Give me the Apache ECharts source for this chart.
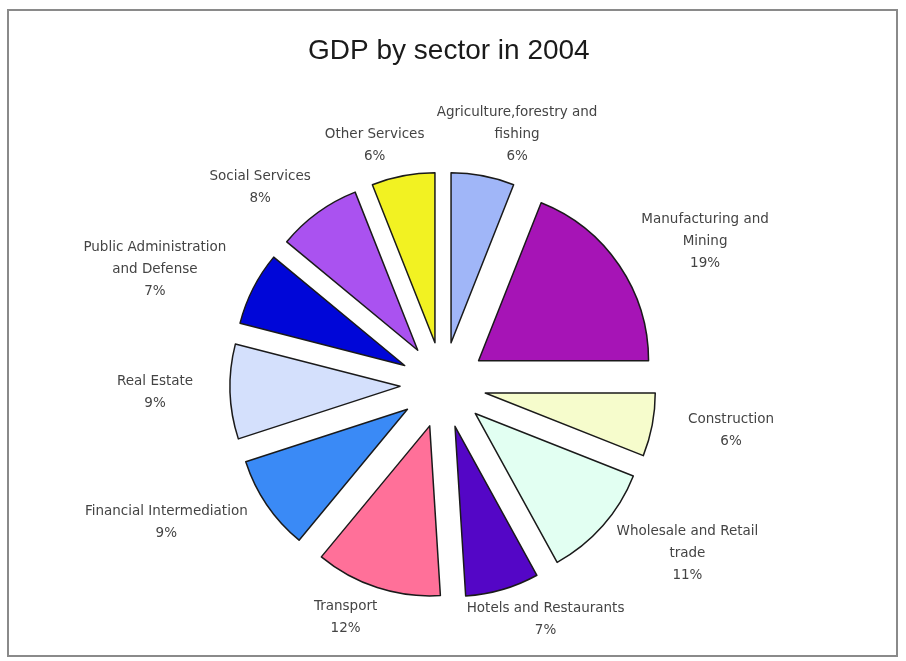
<!DOCTYPE html>
<html>
<head>
<meta charset="utf-8">
<script src="https://cdn.jsdelivr.net/npm/echarts@6/dist/echarts.min.js"></script>
<style>html,body{margin:0;padding:0;background:#fff}#c{width:906px;height:661px}</style>
</head>
<body>
<div id="c"></div>
<script>
const categories = [
  "Agriculture,forestry and\nfishing",
  "Manufacturing and\nMining",
  "Construction",
  "Wholesale and Retail\ntrade",
  "Hotels and Restaurants",
  "Transport",
  "Financial Intermediation",
  "Real Estate",
  "Public Administration\nand Defense",
  "Social Services",
  "Other Services"
];
const values = [6, 19, 6, 11, 7, 12, 9, 9, 7, 8, 6];
const colors = ["#a0b6f8", "#a614b6", "#f6fccc", "#e2fff2", "#5406c6", "#ff7099",
                "#3a8af6", "#d4e0fc", "#0006d8", "#aa52f0", "#f2f222"];

const CX = 443, CY = 385, R = 170, OFF = 43;
const total = values.reduce((a, b) => a + b, 0);
const mids = [];
let cum = 0;
values.forEach(v => { mids.push((cum + v / 2) / total * 2 * Math.PI); cum += v; });

const chart = echarts.init(document.getElementById('c'));
chart.setOption({
  backgroundColor: '#ffffff',
  animation: false,
  title: {
    text: 'GDP by sector in 2004',
    left: 303,
    top: 32,
    textStyle: { fontFamily: 'Liberation Sans', fontSize: 28, fontWeight: 'normal', color: '#1a1a1a' }
  },
  graphic: [{
    type: 'rect', shape: { x: 8, y: 10, width: 889, height: 646 },
    style: { fill: 'none', stroke: '#8a8a8a', lineWidth: 2 }, silent: true, z: -1
  }],
  series: [{
    type: 'pie',
    center: [CX, CY],
    radius: [0, R],
    startAngle: 90,
    clockwise: true,
    selectedMode: 'multiple',
    selectedOffset: OFF,
    emphasis: { disabled: true },
    itemStyle: { borderColor: '#1a1a1a', borderWidth: 1.5 },
    label: { show: false },
    labelLine: { show: false },
    data: categories.map((n, i) => ({
      name: n, value: values[i], selected: true,
      itemStyle: { color: colors[i] }
    }))
  }, {
    type: 'pie',
    center: [CX, CY],
    radius: [0, R],
    startAngle: 90,
    clockwise: true,
    silent: true,
    z: 1,
    emphasis: { disabled: true },
    itemStyle: { color: 'rgba(0,0,0,0)', borderWidth: 0 },
    label: {
      show: true,
      position: 'outside',
      formatter: p => p.name + '\n' + p.percent.toFixed(0) + '%',
      fontFamily: 'DejaVu Sans',
      fontSize: 13.5,
      lineHeight: 22,
      color: '#444444',
      align: 'center'
    },
    labelLine: { show: false },
    labelLayout: function (params) {
      const i = params.dataIndex;
      const th = mids[i];
      const s = Math.sin(th), c = Math.cos(th);
      const w = params.labelRect.width, h = params.labelRect.height;
      const x = CX + 235 * s + s * w / 2 + 15 * Math.sign(s);
      const y = CY - 222 * c - c * h / 2;
      return { x: x, y: y, align: 'center', verticalAlign: 'middle' };
    },
    data: categories.map((n, i) => ({ name: n, value: values[i] }))
  }]
});
</script>
</body>
</html>
